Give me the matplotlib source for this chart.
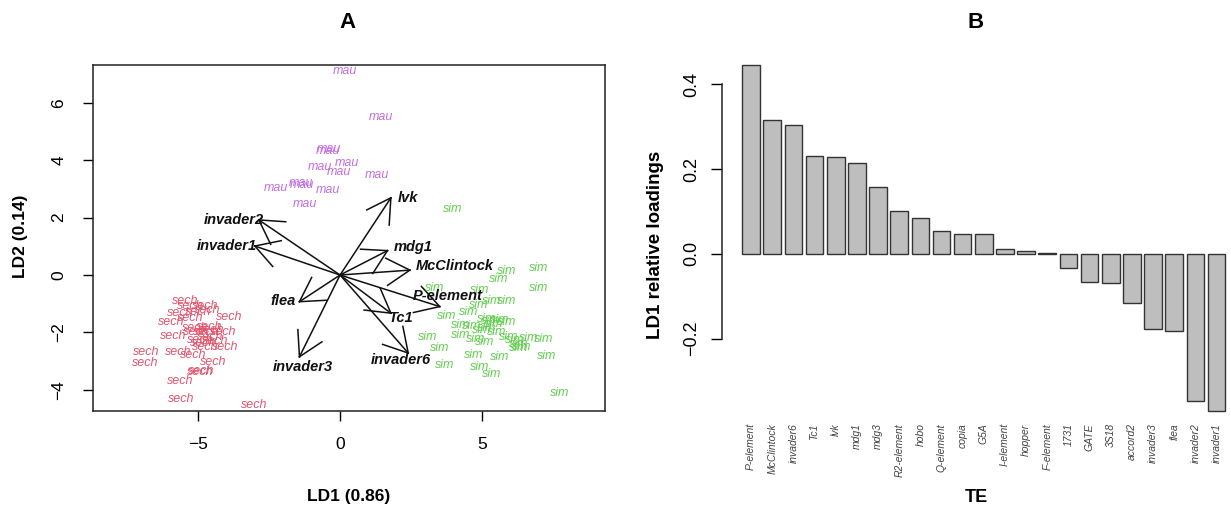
import numpy as np
import matplotlib
matplotlib.use('Agg')
import matplotlib.pyplot as plt

plt.rcParams['font.family'] = ['Liberation Sans', 'DejaVu Sans']

# ---- panel A : LDA biplot ----
mau_x = [0.18, 1.43, -0.42, -0.38, -0.71, 0.24, -0.03, 1.29, -2.26, -1.37, -1.33, -0.42, -1.25]
mau_y = [7.10, 5.50, 4.33, 4.40, 3.78, 3.90, 3.60, 3.47, 3.04, 3.20, 3.15, 2.96, 2.47]

sech_x = [-5.46, -5.28, -4.75, -4.69, -5.63, -5.93, -5.28, -3.90, -5.87, -5.05, -4.52, -4.11,
          -4.93, -4.58, -4.05, -4.75, -6.83, -6.87, -5.69, -5.17, -4.46, -4.93, -4.90, -5.63,
          -5.61, -3.03, -5.10, -4.82, -4.40, -4.70, -4.60, -5.00]
sech_y = [-0.90, -1.08, -1.08, -1.22, -1.34, -1.63, -1.51, -1.48, -2.13, -1.97, -1.92, -1.97,
          -2.26, -2.15, -2.50, -2.52, -2.67, -3.08, -2.70, -2.79, -3.02, -3.39, -3.36, -3.68,
          -4.33, -4.53, -1.85, -2.37, -2.30, -2.00, -1.80, -1.30]

sim_x = [3.98, 5.87, 6.98, 5.60, 6.98, 3.33, 4.93, 5.34, 5.87, 4.87, 4.52, 3.76, 5.16, 5.63,
         4.23, 4.64, 5.16, 5.87, 4.23, 4.79, 5.10, 5.93, 6.16, 6.63, 7.16, 6.28, 3.09, 3.52,
         4.69, 5.63, 7.28, 3.70, 4.93, 5.34, 7.75, 5.40, 5.50, 6.30, 6.40, 5.00, 5.30]
sim_y = [2.30, 0.14, 0.23, -0.15, -0.46, -0.45, -0.52, -0.90, -0.90, -1.05, -1.28, -1.43,
         -1.54, -1.56, -1.74, -1.78, -1.86, -1.63, -2.09, -2.24, -2.32, -2.15, -2.26, -2.21,
         -2.24, -2.55, -2.15, -2.55, -2.79, -2.85, -2.82, -3.14, -3.19, -3.45, -4.12, -1.70,
         -2.00, -2.40, -2.50, -1.90, -1.60]

te_names = ['lvk', 'invader2', 'invader1', 'mdg1', 'McClintock', 'P-element', 'Tc1',
            'invader6', 'invader3', 'flea']
te_x = [1.79, -2.86, -3.00, 1.67, 2.46, 3.51, 1.79, 2.40, -1.43, -1.43]
te_y = [2.69, 1.92, 1.01, 0.85, 0.17, -1.10, -1.33, -2.72, -2.85, -0.93]
# where the variable names sit
lab_x = [2.38, -3.75, -3.99, 2.56, 4.05, 3.80, 2.14, 2.13, -1.32, -2.00]
lab_y = [2.69, 1.92, 1.01, 0.99, 0.33, -0.72, -1.49, -2.96, -3.20, -0.90]

# ---- panel B : LD1 loadings ----
bar_names = ['P-element', 'McClintock', 'invader6', 'Tc1', 'lvk', 'mdg1', 'mdg3', 'R2-element',
             'hobo', 'Q-element', 'copia', 'G5A', 'I-element', 'hopper', 'F-element', '1731',
             'GATE', '3S18', 'accord2', 'invader3', 'flea', 'invader2', 'invader1']
bar_vals = [0.446, 0.317, 0.303, 0.231, 0.228, 0.214, 0.157, 0.102, 0.084, 0.054, 0.048,
            0.046, 0.011, 0.006, 0.002, -0.034, -0.067, -0.068, -0.115, -0.177, -0.183,
            -0.347, -0.370]

W, H = 1231, 508
fig = plt.figure(figsize=(W / 100, H / 100), dpi=100)

# panel A
ax1 = fig.add_axes([93 / W, 1 - 411 / H, (605 - 93) / W, (411 - 65) / H])
ax1.set_xlim(-8.70, 9.33)
ax1.set_ylim(-4.74, 7.32)

for xs, ys, lab, col in [(sech_x, sech_y, 'sech', '#E0566F'),
                         (sim_x, sim_y, 'sim', '#63CF50'),
                         (mau_x, mau_y, 'mau', '#C36FE0')]:
    for x, y in zip(xs, ys):
        ax1.text(x, y, lab, color=col, fontsize=9, style='italic', ha='center', va='center')

hl = 0.95
for x, y, lx, ly, name in zip(te_x, te_y, lab_x, lab_y, te_names):
    ax1.plot([0, x], [0, y], color='#111111', lw=1.1)
    ang = np.arctan2(y, x)
    for da in (np.pi / 6, -np.pi / 6):
        a = ang + np.pi + da
        ax1.plot([x, x + hl * np.cos(a)], [y, y + hl * np.sin(a)], color='#111111', lw=1.1)
    ax1.text(lx, ly, name, fontsize=10.5, fontweight='bold', style='italic',
             ha='center', va='center', color='#111111')

ax1.set_xticks([-5, 0, 5])
ax1.set_xticklabels(['\u22125', '0', '5'])
ax1.set_yticks([-4, -2, 0, 2, 4, 6])
ax1.set_yticklabels(['\u22124', '\u22122', '0', '2', '4', '6'], rotation=90, va='center')
ax1.tick_params(axis='x', length=7, width=1, pad=12, labelsize=12.5)
ax1.tick_params(axis='y', length=7, width=1, pad=12, labelsize=12.5)
for s in ax1.spines.values():
    s.set_linewidth(1.1)
    s.set_color('#222222')

fig.text(349 / W, 1 - 496 / H, 'LD1 (0.86)', fontsize=12.5, fontweight='bold', ha='center', va='center')
fig.text(21 / W, 1 - 236 / H, 'LD2 (0.14)', fontsize=12.5, fontweight='bold', rotation=90,
         ha='center', va='center')
fig.text(347 / W, 1 - 22 / H, 'A', fontsize=16, fontweight='bold', ha='center', va='center')

# panel B
ax2 = fig.add_axes([722 / W, 1 - 415 / H, (1231 - 722) / W, 355 / H])
pos = 0.7 + 1.2 * np.arange(len(bar_vals))
ax2.bar(pos, bar_vals, width=1.0, color='#BEBEBE', edgecolor='#333333', linewidth=1.0)
ax2.set_xlim(-0.95, 27.92)
ax2.set_ylim(-0.38, 0.4575)
for side in ['top', 'right', 'bottom']:
    ax2.spines[side].set_visible(False)
ax2.spines['left'].set_bounds(-0.2, 0.4)
ax2.spines['left'].set_linewidth(1.1)
ax2.spines['left'].set_color('#222222')
ax2.set_yticks([-0.2, 0.0, 0.2, 0.4])
ax2.set_yticklabels(['\u22120.2', '0.0', '0.2', '0.4'], rotation=90, va='center')
ax2.tick_params(axis='y', length=8, width=1, pad=8, labelsize=13)
ax2.set_xticks(pos)
ax2.set_xticklabels(bar_names, rotation=90, fontsize=7.5, style='italic', color='#444444')
ax2.tick_params(axis='x', length=0, pad=6)

fig.text(655 / W, 1 - 245 / H, 'LD1 relative loadings', fontsize=13.5, fontweight='bold',
         rotation=90, ha='center', va='center')
fig.text(976 / W, 1 - 497 / H, 'TE', fontsize=13, fontweight='bold', ha='center', va='center')
fig.text(976 / W, 1 - 22 / H, 'B', fontsize=16, fontweight='bold', ha='center', va='center')

fig.savefig('out.png', dpi=100)
